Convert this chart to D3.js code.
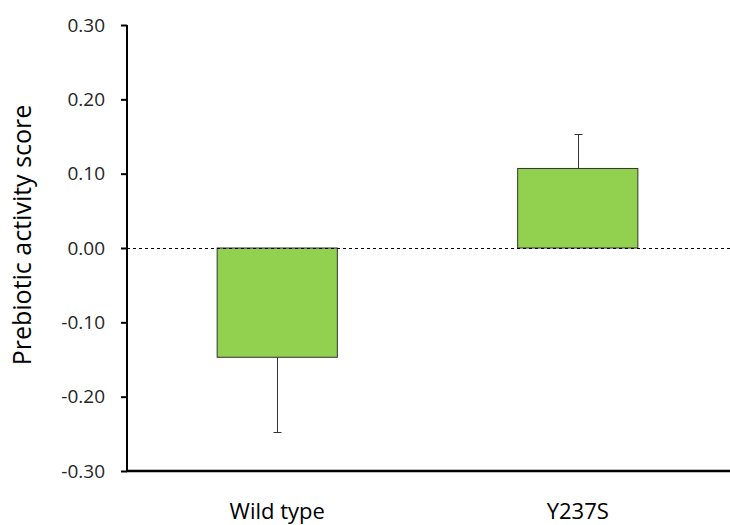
<!DOCTYPE html>
<html>
<head>
<meta charset="utf-8">
<script src="https://cdn.jsdelivr.net/npm/d3@7"></script>
<style>
  html, body { margin: 0; padding: 0; background: #fff; }
  svg { display: block; }
</style>
</head>
<body>
<svg id="chart" width="730" height="525"></svg>
<script>
const categories = ["Wild type", "Y237S"];
const values = [-0.147, 0.107];
const errors = [0.101, 0.046];
const yTicks = [-0.30, -0.20, -0.10, 0.00, 0.10, 0.20, 0.30];
const yTitle = "Prebiotic activity score";

const svg = d3.select("#chart");
const font = "'Open Sans', 'Noto Sans', sans-serif";
const mLeft = 127, mRight = 728, mTop = 25, mBottom = 471;

const x = d3.scaleBand().domain(categories).range([mLeft, mRight]).paddingInner(0.6).paddingOuter(0.3);
const y = d3.scaleLinear().domain([-0.30, 0.30]).range([mBottom, mTop]);

// bars
svg.append("g").selectAll("rect").data(values).join("rect")
  .attr("x", (d, i) => x(categories[i]))
  .attr("width", x.bandwidth())
  .attr("y", d => y(Math.max(0, d)))
  .attr("height", d => Math.abs(y(d) - y(0)))
  .attr("fill", "#92D050")
  .attr("stroke", "#333")
  .attr("stroke-width", 1);

// error bars (outward only)
const eg = svg.append("g").attr("stroke", "#333").attr("stroke-width", 1);
values.forEach((v, i) => {
  const cx = Math.round(x(categories[i]) + x.bandwidth() / 2) + 0.5;
  const end = v < 0 ? v - errors[i] : v + errors[i];
  eg.append("line").attr("x1", cx).attr("x2", cx).attr("y1", y(v)).attr("y2", y(end));
  eg.append("line").attr("x1", cx - 4).attr("x2", cx + 4).attr("y1", Math.round(y(end)) + 0.5).attr("y2", Math.round(y(end)) + 0.5);
});

// zero dashed line
svg.append("line")
  .attr("x1", mLeft).attr("x2", 730)
  .attr("y1", Math.round(y(0)) + 0.5).attr("y2", Math.round(y(0)) + 0.5)
  .attr("stroke", "#000").attr("stroke-width", 1).attr("stroke-dasharray", "3,3");

// y axis
const yAxis = svg.append("g").attr("transform", `translate(${mLeft},0)`)
  .call(d3.axisLeft(y).tickValues(yTicks).tickFormat(d3.format(".2f")).tickSize(6).tickPadding(16));
yAxis.select(".domain").remove();
yAxis.append("line").attr("x1", 0).attr("x2", 0).attr("y1", y(0.30)).attr("y2", y(-0.30) + 1)
  .attr("stroke", "#000").attr("stroke-width", 2);
yAxis.selectAll(".tick line").attr("stroke", "#000").attr("stroke-width", 2);
yAxis.selectAll(".tick text").attr("font-family", font).attr("font-size", 19).attr("fill", "#262626")
  .text(d => d3.format(".2f")(d).replace("−", "-"));

// x axis line
svg.append("line").attr("x1", mLeft - 1).attr("x2", 730).attr("y1", mBottom).attr("y2", mBottom)
  .attr("stroke", "#000").attr("stroke-width", 2.5);

// x labels
svg.append("g").selectAll("text").data(categories).join("text")
  .attr("x", d => x(d) + x.bandwidth() / 2)
  .attr("y", 519)
  .attr("text-anchor", "middle")
  .attr("font-family", font).attr("font-size", 22).attr("fill", "#000")
  .text(d => d);

// y title
svg.append("text")
  .attr("transform", `translate(31,235) rotate(-90)`)
  .attr("text-anchor", "middle")
  .attr("font-family", font).attr("font-size", 25).attr("fill", "#000")
  .text(yTitle);
</script>
</body>
</html>
